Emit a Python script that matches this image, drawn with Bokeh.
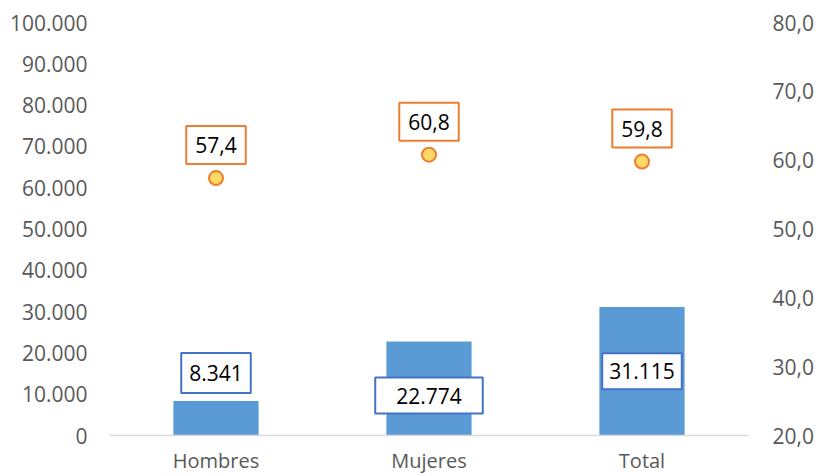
from bokeh.plotting import figure
from bokeh.models import Range1d, LinearAxis, FixedTicker, Label, ColumnDataSource
from bokeh.embed import file_html
from bokeh.resources import INLINE

categories = ["Hombres", "Mujeres", "Total"]
counts = [8341, 22774, 31115]
count_labels = ["8.341", "22.774", "31.115"]
rates = [57.4, 60.8, 59.8]
rate_labels = ["57,4", "60,8", "59,8"]
left_ticks = [0, 10000, 20000, 30000, 40000, 50000, 60000, 70000, 80000, 90000, 100000]
left_tick_labels = ["0", "10.000", "20.000", "30.000", "40.000", "50.000", "60.000",
                    "70.000", "80.000", "90.000", "100.000"]
right_ticks = [20, 30, 40, 50, 60, 70, 80]
right_tick_labels = ["20,0", "30,0", "40,0", "50,0", "60,0", "70,0", "80,0"]

FONT = "Open Sans"
FS = "21px"
TICK_COLOR = "#595959"

p = figure(x_range=categories, y_range=Range1d(0, 100000), width=817, height=476,
           output_backend="svg", toolbar_location=None,
           min_border_left=109, min_border_right=69, min_border_top=22, min_border_bottom=41)
p.outline_line_color = None
p.xgrid.grid_line_color = None
p.ygrid.grid_line_color = None
p.extra_y_ranges = {"rate": Range1d(20, 80)}

src = ColumnDataSource(dict(cat=categories, cnt=counts, rate=rates))
p.vbar(x="cat", top="cnt", width=0.4, source=src, color="#5b9bd5", line_color=None)
p.scatter(x="cat", y="rate", source=src, y_range_name="rate", size=14,
          fill_color="#ffd966", line_color="#ed7d31", line_width=2)

# left axis
ya = p.yaxis[0]
ya.ticker = FixedTicker(ticks=left_ticks)
ya.major_label_overrides = {t: l for t, l in zip(left_ticks, left_tick_labels)}
ya.axis_line_color = None
ya.major_tick_line_color = None
ya.minor_tick_line_color = None
ya.major_tick_out = 0
ya.major_tick_in = 0
ya.minor_tick_out = 0
ya.major_label_text_font = FONT
ya.major_label_text_font_size = FS
ya.major_label_text_color = TICK_COLOR
ya.major_label_standoff = 22

# right axis
ra = LinearAxis(y_range_name="rate", ticker=FixedTicker(ticks=right_ticks))
ra.major_label_overrides = {t: l for t, l in zip(right_ticks, right_tick_labels)}
ra.axis_line_color = None
ra.major_tick_line_color = None
ra.minor_tick_line_color = None
ra.major_tick_out = 0
ra.major_tick_in = 0
ra.minor_tick_out = 0
ra.major_label_text_font = FONT
ra.major_label_text_font_size = FS
ra.major_label_text_color = TICK_COLOR
ra.major_label_standoff = 24
p.add_layout(ra, "right")

# x axis
xa = p.xaxis[0]
xa.axis_line_color = "#d9d9d9"
xa.axis_line_width = 1.5
xa.major_tick_line_color = None
xa.minor_tick_line_color = None
xa.major_tick_out = 0
xa.major_tick_in = 0
xa.minor_tick_out = 0
xa.major_label_text_font = FONT
xa.major_label_text_font_size = "20px"
xa.major_label_text_color = TICK_COLOR
xa.major_label_standoff = 11

# numeric centres of the categorical factors
xpos = [i + 0.5 for i in range(len(categories))]

# rate labels (orange boxes above the points)
for xc, r, t in zip(xpos, rates, rate_labels):
    p.add_layout(Label(x=xc, y=r, y_range_name="rate", text=t, y_offset=33,
                       text_align="center", text_baseline="middle",
                       text_font=FONT, text_font_size=FS, text_color="black",
                       background_fill_color="white", border_line_color="#ed7d31",
                       border_line_width=2, padding=(9, 11)))

# count labels (blue boxes)
bar_label_y = [counts[0], 0, counts[2] / 2]
bar_label_off = [28, 40, 0]
bar_label_pad = [(8, 12), (21, 10), (7, 10)]
for xc, y, off, pad, t in zip(xpos, bar_label_y, bar_label_off, bar_label_pad, count_labels):
    p.add_layout(Label(x=xc, y=y, text=t, y_offset=off,
                       text_align="center", text_baseline="middle",
                       text_font=FONT, text_font_size=FS, text_color="black",
                       background_fill_color="white", border_line_color="#4472c4",
                       border_line_width=2, padding=pad))

open("out.html", "w").write(file_html(p, INLINE))
